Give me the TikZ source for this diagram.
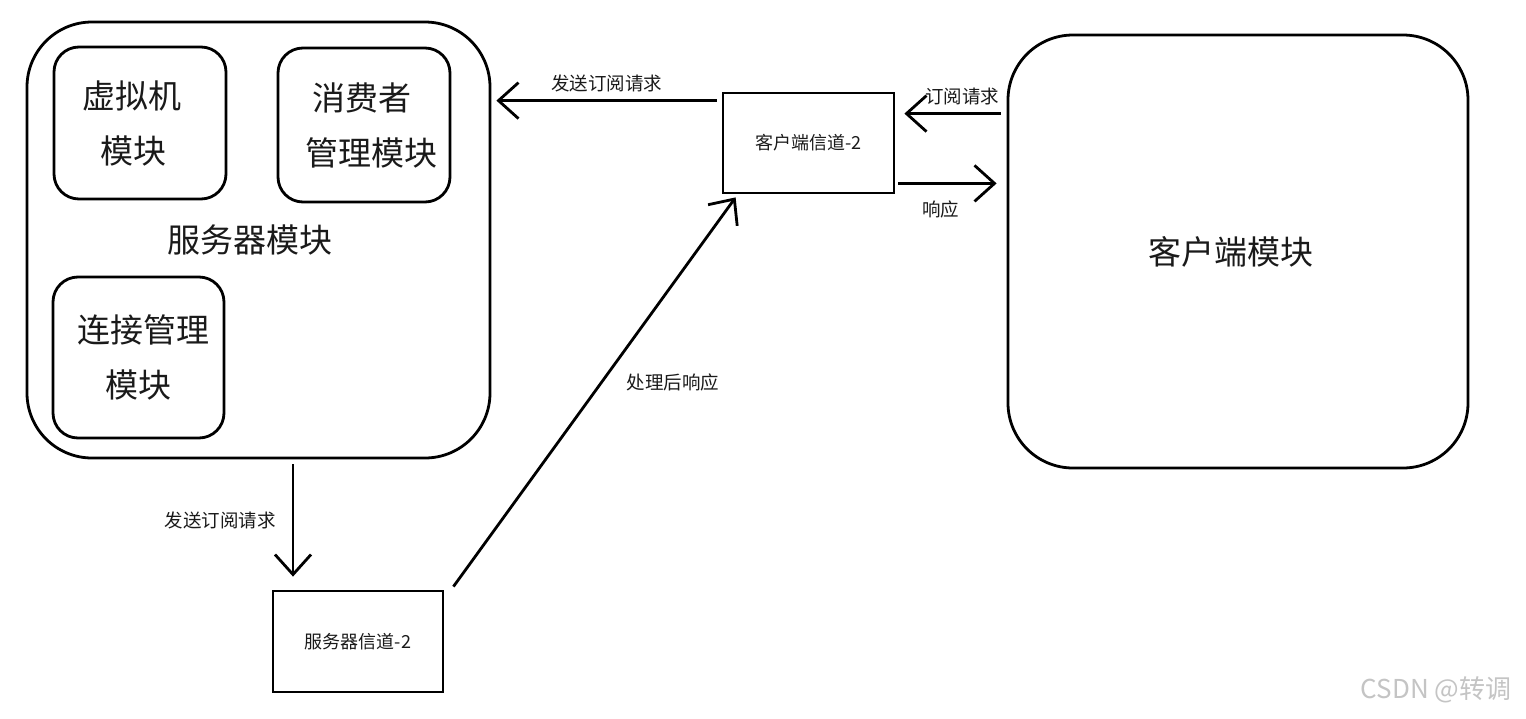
\documentclass[tikz,border=0pt]{standalone}
\usepackage{fontspec}
\setmainfont{Noto Sans CJK SC}
\usetikzlibrary{arrows.meta}
\definecolor{txt}{HTML}{1A1A1A}
\definecolor{wm}{HTML}{C4C4C4}
\begin{document}
\begin{tikzpicture}[x=1pt,y=-1pt,
  big/.style={draw=black, line width=2.8pt, rounded corners=65pt, inner sep=0pt,
    font=\fontsize{33}{55}\selectfont, text=txt, align=center},
  sub/.style={draw=black, line width=2.8pt, rounded corners=25pt, inner sep=0pt,
    font=\fontsize{33}{55}\selectfont, text=txt, align=center},
  chan/.style={draw=black, line width=2.8pt, inner sep=0pt,
    font=\fontsize{18}{22}\selectfont, text=txt},
  arr/.style={line width=2.8pt, -{Straight Barb[length=20pt,width=36pt,line width=2.8pt]}},
  lab/.style={font=\fontsize{18.5}{22}\selectfont, text=txt, inner sep=0pt}]
\useasboundingbox (0,0) rectangle (1526,718);
\fill[white] (0,0) rectangle (1526,718);

% server module
\node[big, minimum width=463pt, minimum height=436pt] (srv) at (258.5,240) {\hspace*{-18pt}服务器模块};
\node[sub, minimum width=172pt, minimum height=152pt] (vm) at (140,123) {\hspace*{-16pt}虚拟机\\\hspace*{-14pt}模块};
\node[sub, minimum width=172pt, minimum height=154pt] (cons) at (364,125) {\hspace*{-4pt}消费者\\\hspace*{14pt}管理模块};
\node[sub, minimum width=171pt, minimum height=161pt] (conn) at (138.5,357.5) {\hspace*{10pt}连接管理\\模块};

% client module
\node[big, minimum width=460pt, minimum height=433pt] (cli) at (1238,251.5) {\hspace*{-14pt}客户端模块};

% channels
\node[chan, minimum width=171pt, minimum height=100pt] (cc) at (808.5,143) {客户端信道-2};
\node[chan, minimum width=170pt, minimum height=101pt] (sc) at (358,641.5) {服务器信道-2};

% top-left arrow
\coordinate (a1) at ([shift={(-5pt,-9pt)}]cc.north west);
\coordinate (a2) at ([xshift=5pt]srv.east |- a1);
\draw[arr] (a1) -- node[lab, midway, above=7pt] {发送订阅请求} (a2);

% client -> client channel
\coordinate (b0) at ([yshift=-22pt]cc.north);
\coordinate (b1) at ([xshift=-6pt]cli.west |- b0);
\coordinate (b2) at ([xshift=9pt]cc.east |- b0);
\draw[arr] (b1) -- node[lab, pos=0.4, above=7pt] {订阅请求} (b2);

% client channel -> client
\coordinate (c1) at ([shift={(3pt,11pt)}]cc.south east);
\coordinate (c2) at ([xshift=-10pt]cli.west |- c1);
\draw[arr] (c1) -- node[lab, pos=0.43, below=16pt] {响应} (c2);

% server -> server channel
\coordinate (d1) at ([shift={(34.5pt,-5pt)}]srv.south);
\coordinate (d2) at ([yshift=13pt]d1 |- sc.north);
\draw[arr] (d1) -- node[lab, midway, left=16pt] {发送订阅请求} (d2);

% server channel -> client channel
\coordinate (e1) at ([shift={(9pt,3pt)}]sc.north east);
\coordinate (e2) at ([shift={(14pt,-3pt)}]cc.south west);
\draw[arr] (e1) -- node[lab, pos=0.525, right=24pt] {处理后响应} (e2);

% watermark
\node[font=\fontsize{26}{28}\selectfont, text=wm, inner sep=0pt] (wmk) at (1436,690) {CSDN @转调};
\end{tikzpicture}
\end{document}
